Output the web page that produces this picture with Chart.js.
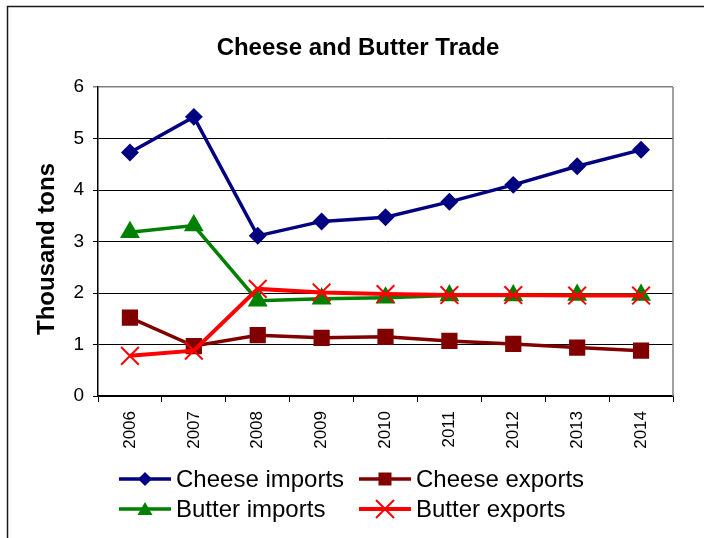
<!DOCTYPE html>
<html>
<head>
<meta charset="utf-8">
<title>Cheese and Butter Trade</title>
<script src="https://cdn.jsdelivr.net/npm/chart.js@4.4.1/dist/chart.umd.min.js"></script>
<style>
  html, body { margin: 0; padding: 0; background: #fff; }
  #wrap { width: 704px; height: 538px; position: relative; }
</style>
</head>
<body>
<div id="wrap"><canvas id="tradeChart" width="704" height="538"></canvas></div>
<script>
// datos
const years = ['2006', '2007', '2008', '2009', '2010', '2011', '2012', '2013', '2014'];
const cheeseImports = [4.73, 5.42, 3.11, 3.39, 3.47, 3.77, 4.10, 4.46, 4.78];
const cheeseExports = [1.52, 0.97, 1.18, 1.13, 1.15, 1.07, 1.01, 0.94, 0.88];
const butterImports = [3.18, 3.31, 1.85, 1.89, 1.91, 1.95, 1.95, 1.96, 1.96];
const butterExports = [0.78, 0.88, 2.08, 2.01, 1.98, 1.96, 1.96, 1.95, 1.95];
const yTicks = [0, 1, 2, 3, 4, 5, 6];

const chartTitle = 'Cheese and Butter Trade';
const yTitle = 'Thousand tons';

const FONT = "'Liberation Sans', Arial, sans-serif";

// marcador a mano para la leyenda
function drawMarker(ctx, style, x, y, color) {
    ctx.save();
    ctx.fillStyle = color;
    ctx.strokeStyle = color;
    ctx.beginPath();
    if (style === 'rectRot') {
        ctx.moveTo(x, y - 7); ctx.lineTo(x + 7, y); ctx.lineTo(x, y + 7); ctx.lineTo(x - 7, y);
        ctx.closePath(); ctx.fill();
    } else if (style === 'rect') {
        ctx.fillRect(x - 6.5, y - 6.5, 13, 13);
    } else if (style === 'triangle') {
        ctx.moveTo(x, y - 7); ctx.lineTo(x + 7.5, y + 6); ctx.lineTo(x - 7.5, y + 6);
        ctx.closePath(); ctx.fill();
    } else {
        ctx.lineWidth = 2;
        ctx.moveTo(x - 9, y - 9); ctx.lineTo(x + 9, y + 9);
        ctx.moveTo(x + 9, y - 9); ctx.lineTo(x - 9, y + 9);
        ctx.stroke();
    }
    ctx.restore();
}

const legendItems = [
    { text: 'Cheese imports', color: '#000080', style: 'rectRot', x: 119, y: 479 },
    { text: 'Cheese exports', color: '#800000', style: 'rect', x: 359, y: 479 },
    { text: 'Butter imports', color: '#008000', style: 'triangle', x: 119, y: 509 },
    { text: 'Butter exports', color: '#FF0000', style: 'crossRot', x: 359, y: 509 }
];

const framePlugin = {
    id: 'frame',
    beforeDraw(chart) {
        const ctx = chart.ctx;
        ctx.save();
        ctx.fillStyle = '#fff';
        ctx.fillRect(0, 0, chart.width, chart.height);
        ctx.strokeStyle = '#1a1a1a';
        ctx.lineWidth = 1.5;
        ctx.strokeRect(7.5, 6.5, 1000, 1000);
        ctx.restore();
    },
    afterDatasetsDraw(chart) {
        // borde derecho gris del área de trazado
        const a = chart.chartArea;
        const ctx = chart.ctx;
        ctx.save();
        ctx.strokeStyle = '#808080';
        ctx.lineWidth = 1.5;
        ctx.beginPath();
        ctx.moveTo(a.right, a.top);
        ctx.lineTo(a.right, a.bottom);
        ctx.stroke();
        ctx.restore();
    },
    afterDraw(chart) {
        const ctx = chart.ctx;
        ctx.save();
        // título
        ctx.fillStyle = '#000';
        ctx.font = 'bold 24px ' + FONT;
        ctx.textAlign = 'center';
        ctx.textBaseline = 'middle';
        ctx.fillText(chartTitle, 358, 48);
        // título eje Y
        ctx.save();
        ctx.translate(47, 249);
        ctx.rotate(-Math.PI / 2);
        ctx.fillText(yTitle, 0, 0);
        ctx.restore();
        // leyenda
        legendItems.forEach(function(it) {
            ctx.strokeStyle = it.color;
            ctx.lineWidth = it.style === 'crossRot' ? 4 : 3.5;
            ctx.beginPath();
            ctx.moveTo(it.x, it.y);
            ctx.lineTo(it.x + 52, it.y);
            ctx.stroke();
            drawMarker(ctx, it.style, it.x + 26, it.y, it.color);
            ctx.fillStyle = '#000';
            ctx.font = '24px ' + FONT;
            ctx.textBaseline = 'middle';
            ctx.textAlign = 'left';
            ctx.fillText(it.text, it.x + 57, it.y + 1);
        });
        ctx.restore();
    }
};

const ctx = document.getElementById('tradeChart').getContext('2d');
const chart = new Chart(ctx, {
    type: 'line',
    data: {
        labels: years,
        datasets: [
            {
                label: 'Cheese imports',
                data: cheeseImports,
                borderColor: '#000080',
                backgroundColor: '#000080',
                borderWidth: 3.5,
                pointStyle: 'rectRot',
                pointRadius: 6.5,
                order: 3
            },
            {
                label: 'Cheese exports',
                data: cheeseExports,
                borderColor: '#800000',
                backgroundColor: '#800000',
                borderWidth: 3.5,
                pointStyle: 'rect',
                pointRadius: 9,
                order: 2
            },
            {
                label: 'Butter imports',
                data: butterImports,
                borderColor: '#008000',
                backgroundColor: '#008000',
                borderWidth: 3.5,
                pointStyle: 'triangle',
                pointRadius: 8,
                order: 1
            },
            {
                label: 'Butter exports',
                data: butterExports,
                borderColor: '#FF0000',
                backgroundColor: '#FF0000',
                borderWidth: 4,
                pointStyle: 'crossRot',
                pointRadius: 12.5,
                pointBorderWidth: 2,
                order: 0
            }
        ]
    },
    options: {
        responsive: false,
        animation: false,
        layout: { padding: { left: 0, right: 31, top: 87, bottom: 0 } },
        elements: { line: { tension: 0 } },
        plugins: {
            legend: { display: false },
            tooltip: { enabled: false },
            title: { display: false }
        },
        scales: {
            x: {
                offset: true,
                grid: {
                    offset: true,
                    drawOnChartArea: false,
                    drawTicks: true,
                    tickLength: 6,
                    color: '#000'
                },
                border: { color: '#000', width: 1.5 },
                ticks: {
                    color: '#000',
                    minRotation: 90,
                    maxRotation: 90,
                    padding: 9,
                    font: { family: FONT, size: 17 }
                },
                afterFit: function(scale) { scale.height = 142; }
            },
            y: {
                min: 0,
                max: 6,
                afterBuildTicks: function(scale) {
                    scale.ticks = yTicks.map(function(v) { return { value: v }; });
                },
                grid: {
                    color: function(c) { return c.tick && c.tick.value === 6 ? '#808080' : '#000'; },
                    lineWidth: function(c) { return c.tick && c.tick.value === 6 ? 1.5 : 1; },
                    tickLength: 5,
                    drawTicks: true
                },
                border: { color: '#000', width: 1.5 },
                ticks: {
                    color: '#000',
                    padding: 9,
                    font: { family: FONT, size: 19 }
                },
                afterFit: function(scale) { scale.width = 98; }
            }
        }
    },
    plugins: [framePlugin]
});
</script>
</body>
</html>
